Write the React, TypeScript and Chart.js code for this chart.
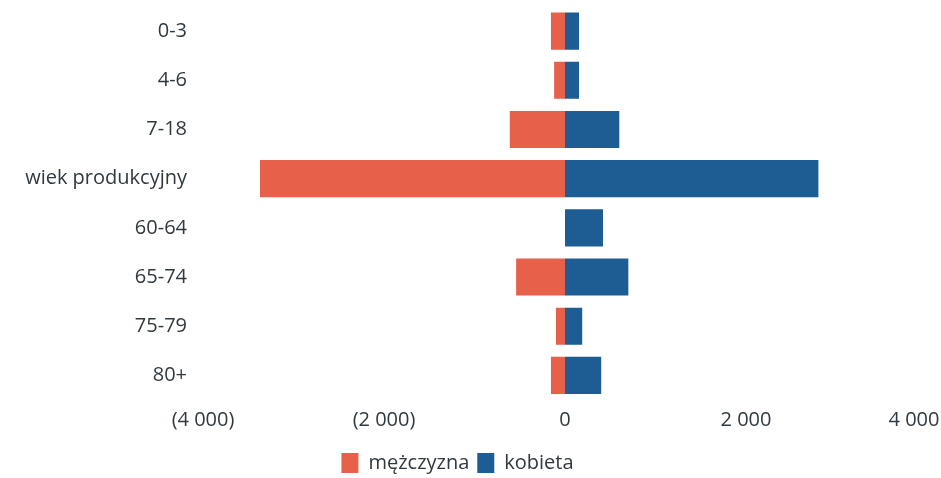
import React, { useEffect, useRef } from "react";
import { Chart, registerables } from "chart.js";

Chart.register(...registerables);

const categories = ["0-3", "4-6", "7-18", "wiek produkcyjny", "60-64", "65-74", "75-79", "80+"];
const menValues = [-155, -120, -610, -3370, 0, -540, -100, -155];
const womenValues = [155, 155, 600, 2800, 420, 700, 190, 400];
const seriesNames = ["mężczyzna", "kobieta"];
const xTicks = [-4000, -2000, 0, 2000, 4000];

const RED = "#e6604a";
const BLUE = "#1d5d93";
const FONT = "'Open Sans', 'Noto Sans', sans-serif";
const TEXT = "#30393f";

function fmt(v: number): string {
  const a = Math.abs(v);
  const s = a.toString().replace(/\B(?=(\d{3})+(?!\d))/g, " ");
  if (v < 0) return `(${s})`;
  if (v === 4000) return s + "     ";
  return s;
}

const legendShift = {
  id: "legendShift",
  afterLayout(chart: any) {
    const lg = chart.legend;
    if (!lg) return;
    lg.left -= 13;
    lg.right -= 13;
    lg.top += 5;
    lg.bottom += 5;
  },
};

export default function App() {
  const ref = useRef<HTMLCanvasElement | null>(null);

  useEffect(() => {
    if (!ref.current) return;
    const chart = new Chart(ref.current, {
      type: "bar",
      data: {
        labels: categories,
        datasets: [
          {
            label: seriesNames[0],
            data: menValues,
            backgroundColor: RED,
            borderWidth: 0,
            categoryPercentage: 0.755,
            barPercentage: 1,
          },
          {
            label: seriesNames[1],
            data: womenValues,
            backgroundColor: BLUE,
            borderWidth: 0,
            categoryPercentage: 0.755,
            barPercentage: 1,
          },
        ],
      },
      plugins: [legendShift],
      options: {
        indexAxis: "y",
        animation: false,
        responsive: false,
        maintainAspectRatio: false,
        layout: { padding: { top: 6.5, left: 0, right: 0, bottom: 0 } },
        plugins: {
          tooltip: { enabled: false },
          legend: {
            position: "bottom",
            labels: {
              font: { family: FONT, size: 20 },
              color: TEXT,
              boxWidth: 17,
              boxHeight: 20,
              padding: 8,
            },
          },
        },
        scales: {
          x: {
            stacked: true,
            min: -4000,
            max: 4000,
            grid: { display: false, drawTicks: false },
            border: { display: false },
            afterBuildTicks: (scale: any) => {
              scale.ticks = xTicks.map((v) => ({ value: v }));
            },
            afterFit: (scale: any) => {
              scale.paddingRight = 14;
            },
            ticks: {
              font: { family: FONT, size: 20 },
              color: TEXT,
              padding: 8,
              maxRotation: 0,
              autoSkip: false,
              callback: (v: any) => fmt(Number(v)),
            },
          },
          y: {
            stacked: true,
            grid: { display: false, drawTicks: false },
            border: { display: false },
            afterFit: (scale: any) => {
              scale.width = 203;
              scale.paddingTop = 0;
              scale.paddingBottom = 0;
            },
            ticks: {
              font: { family: FONT, size: 20 },
              color: TEXT,
              padding: 16,
            },
          },
        },
      },
    });
    return () => chart.destroy();
  }, []);

  return (
    <div style={{ position: "fixed", left: 0, top: 0, width: 941, height: 478, background: "#fff" }}>
      <canvas ref={ref} width={941} height={478} style={{ width: 941, height: 478 }} />
    </div>
  );
}
